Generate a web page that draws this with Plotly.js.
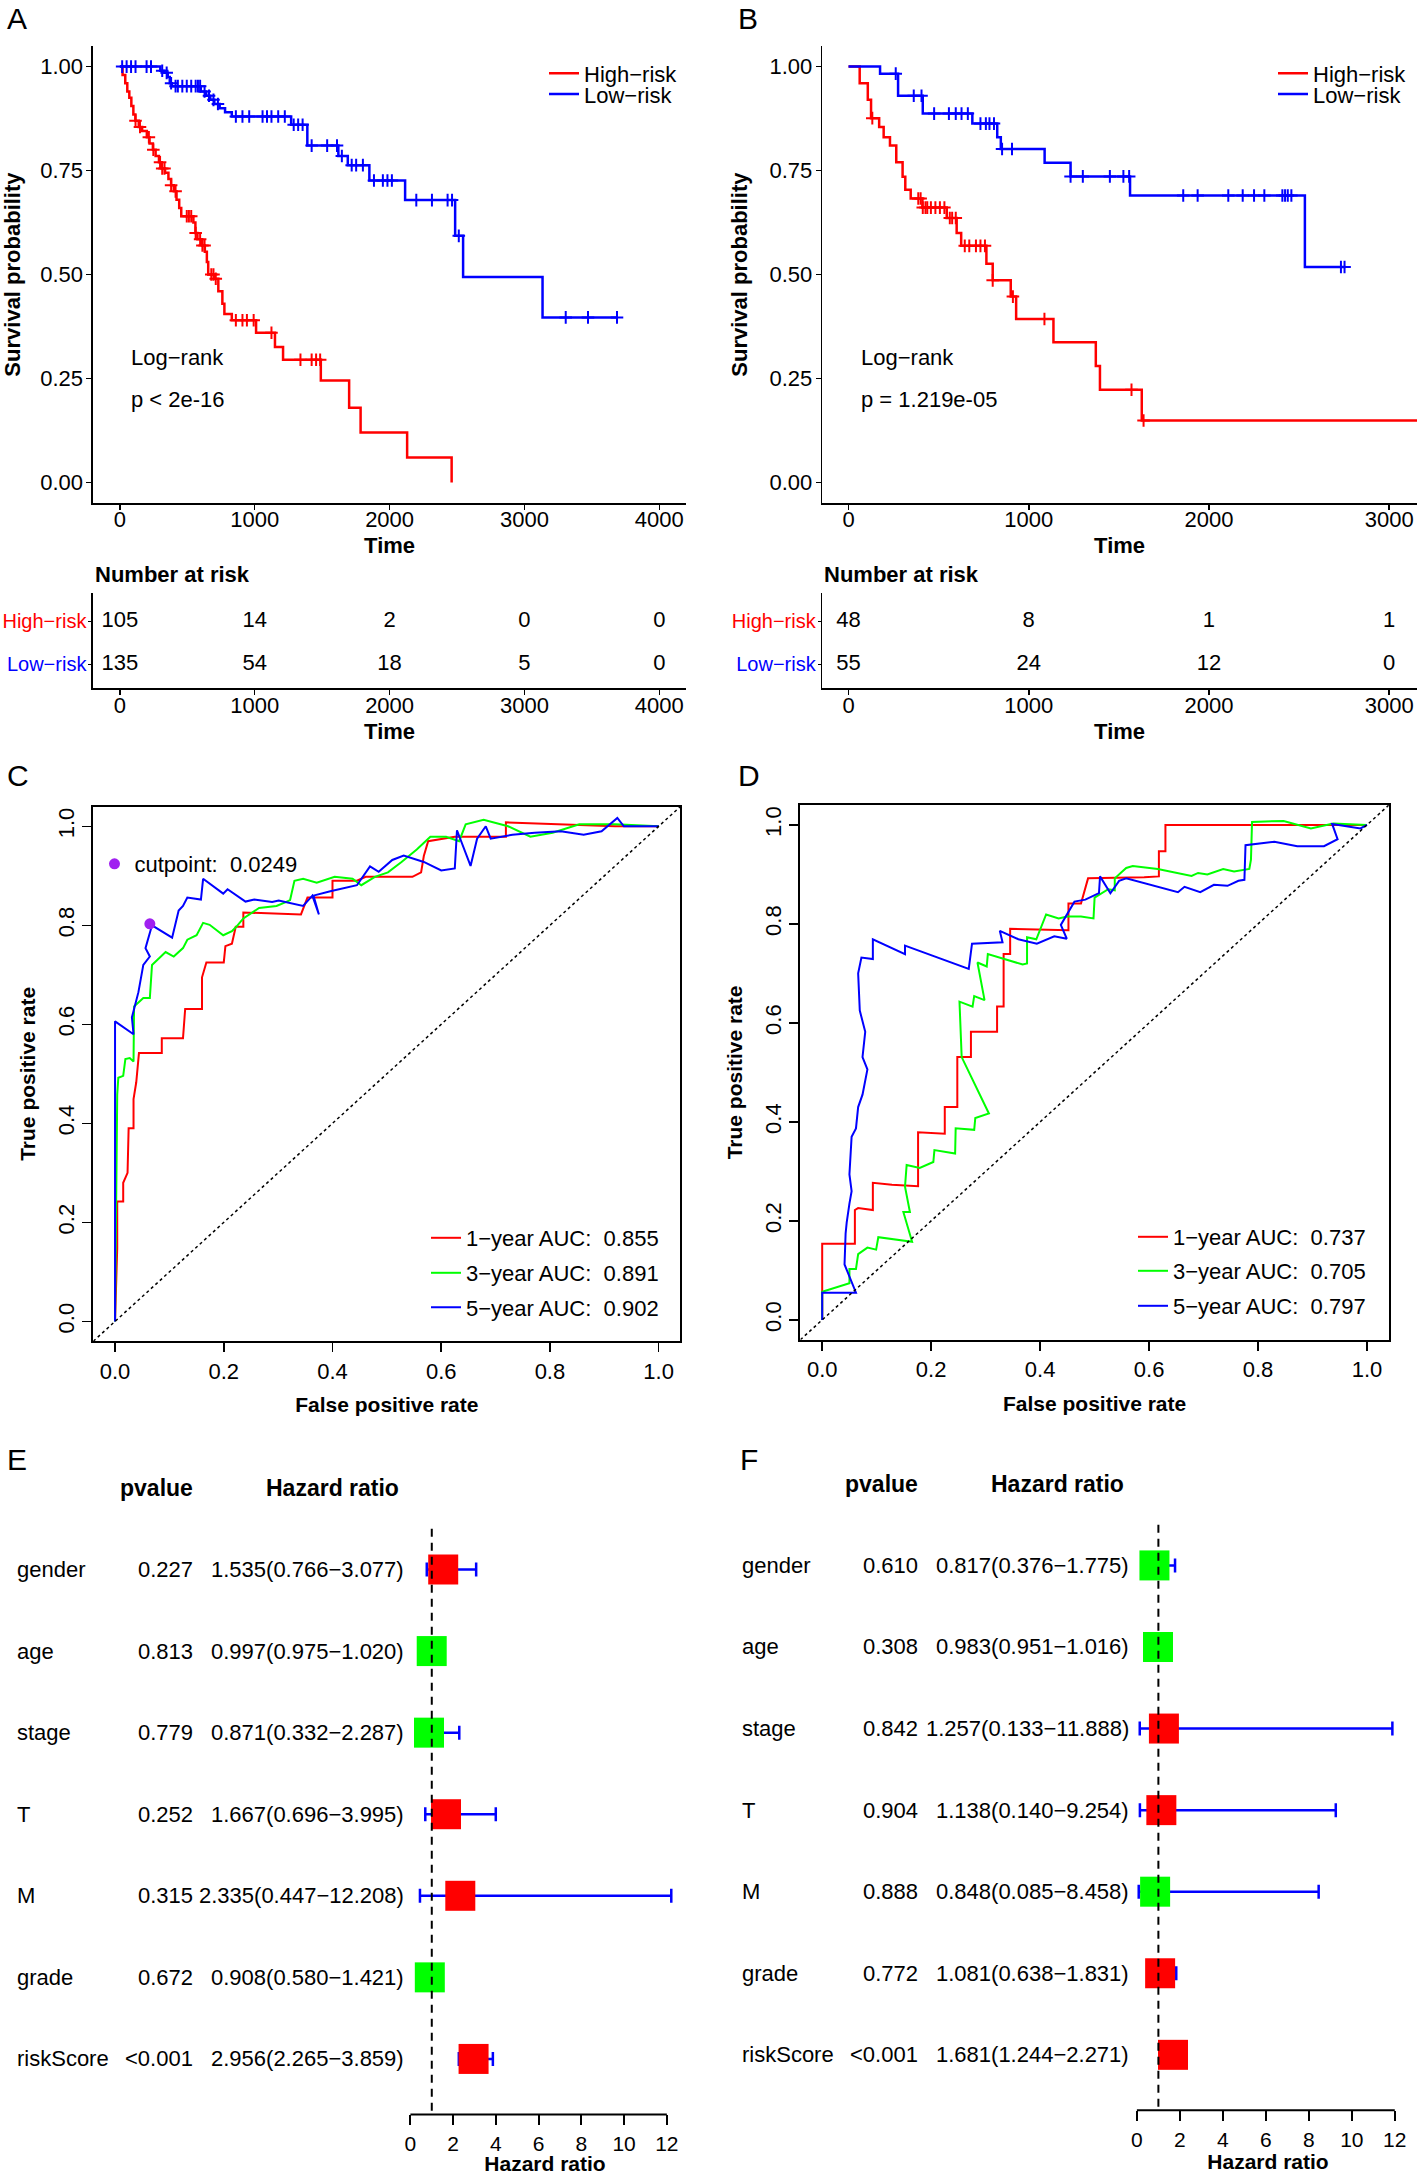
<!DOCTYPE html>
<html><head><meta charset="utf-8">
<script src="https://cdn.plot.ly/plotly-3.0.1.min.js"></script>
<style>html,body{margin:0;padding:0;background:#fff}</style>
</head><body><div id="chart" style="width:1417px;height:2175px"></div>
<script>
// ================= DATA =================
// Panel A: Kaplan-Meier (training cohort)
const kmA_high_time = [0, 20, 40, 55, 70, 85, 100, 115, 140, 165, 200, 220, 245, 265, 290, 310, 335, 360, 380, 400, 420, 440, 455, 545, 560, 575, 610, 630, 645, 655, 700, 730, 760, 775, 830, 1010, 1150, 1210, 1490, 1700, 1785, 2130, 2460];
const kmA_high_surv = [1, 0.98, 0.96, 0.94, 0.925, 0.905, 0.885, 0.87, 0.855, 0.845, 0.83, 0.815, 0.80, 0.785, 0.77, 0.755, 0.745, 0.73, 0.715, 0.70, 0.68, 0.66, 0.64, 0.625, 0.60, 0.585, 0.57, 0.555, 0.53, 0.50, 0.49, 0.46, 0.43, 0.405, 0.39, 0.36, 0.326, 0.295, 0.245, 0.18, 0.12, 0.06, 0.0];
const kmA_high_censor = [116, 149, 215, 248, 298, 314, 331, 380, 413, 496, 512, 529, 562, 595, 612, 628, 678, 694, 711, 860, 909, 942, 992, 1124, 1339, 1422, 1455, 1485];
const kmA_low_time = [0, 300, 330, 355, 370, 385, 600, 640, 670, 700, 740, 780, 830, 1270, 1390, 1620, 1690, 1850, 2115, 2486, 2545, 3134, 3686];
const kmA_low_surv = [1, 0.99, 0.985, 0.975, 0.96, 0.953, 0.94, 0.93, 0.92, 0.91, 0.90, 0.89, 0.88, 0.86, 0.81, 0.785, 0.763, 0.726, 0.679, 0.593, 0.494, 0.397, 0.397];
const kmA_low_censor = [17, 50, 83, 116, 198, 231, 314, 347, 380, 413, 430, 463, 496, 529, 562, 579, 595, 628, 661, 694, 727, 860, 909, 959, 1058, 1091, 1124, 1174, 1223, 1289, 1322, 1355, 1422, 1537, 1610, 1646, 1719, 1752, 1802, 1884, 1950, 1984, 2017, 2198, 2314, 2430, 2463, 2513, 3306, 3471, 3686];
const riskA_times = [0, 1000, 2000, 3000, 4000];
const riskA_high = [105, 14, 2, 0, 0];
const riskA_low = [135, 54, 18, 5, 0];
const pvalA = "p < 2e-16";

// Panel B: Kaplan-Meier (validation cohort)
const kmB_high_time = [0, 62, 107, 125, 170, 195, 230, 265, 300, 315, 345, 410, 545, 600, 625, 765, 800, 900, 930, 1137, 1372, 1395, 1627, 3154];
const kmB_high_surv = [1, 0.96, 0.92, 0.876, 0.855, 0.83, 0.81, 0.77, 0.735, 0.704, 0.683, 0.661, 0.636, 0.60, 0.569, 0.526, 0.486, 0.447, 0.393, 0.337, 0.28, 0.223, 0.149, 0.149];
const kmB_high_censor = [132, 387, 400, 412, 427, 437, 457, 482, 507, 532, 562, 575, 595, 645, 670, 707, 732, 757, 800, 912, 1087, 1570, 1637];
const kmB_low_time = [0, 175, 275, 412, 687, 825, 845, 1088, 1232, 1562, 2532, 2757];
const kmB_low_surv = [1, 0.983, 0.93, 0.887, 0.863, 0.83, 0.802, 0.769, 0.736, 0.69, 0.518, 0.518];
const kmB_low_censor = [262, 362, 405, 475, 557, 595, 627, 662, 732, 762, 782, 807, 852, 907, 1232, 1300, 1450, 1525, 1557, 1857, 1937, 2107, 2187, 2250, 2307, 2407, 2422, 2437, 2457, 2732, 2752];
const riskB_times = [0, 1000, 2000, 3000];
const riskB_high = [48, 8, 1, 1];
const riskB_low = [55, 24, 12, 0];
const pvalB = "p = 1.219e-05";

// Panel C: time-dependent ROC (training)
const rocC_1y_fpr = [0, 0.004, 0.004, 0.015, 0.015, 0.023, 0.025, 0.034, 0.034, 0.039, 0.044, 0.086, 0.086, 0.125, 0.129, 0.160, 0.160, 0.168, 0.20, 0.203, 0.215, 0.222, 0.236, 0.236, 0.342, 0.354, 0.40, 0.40, 0.445, 0.461, 0.547, 0.563, 0.568, 0.576, 0.625, 0.719, 0.719, 0.92, 1.0];
const rocC_1y_tpr = [0, 0.148, 0.242, 0.242, 0.28, 0.30, 0.39, 0.39, 0.449, 0.483, 0.542, 0.542, 0.572, 0.572, 0.631, 0.631, 0.695, 0.725, 0.725, 0.758, 0.763, 0.797, 0.797, 0.826, 0.822, 0.856, 0.856, 0.89, 0.89, 0.898, 0.898, 0.907, 0.94, 0.97, 0.979, 0.979, 1.008, 1.0, 1.0];
const rocC_3y_fpr = [0, 0.004, 0.006, 0.015, 0.019, 0.027, 0.034, 0.035, 0.035, 0.052, 0.064, 0.068, 0.076, 0.093, 0.108, 0.125, 0.133, 0.15, 0.162, 0.174, 0.199, 0.215, 0.223, 0.236, 0.265, 0.297, 0.314, 0.322, 0.33, 0.346, 0.371, 0.404, 0.437, 0.453, 0.478, 0.502, 0.527, 0.555, 0.58, 0.609, 0.633, 0.645, 0.678, 0.723, 0.764, 0.805, 0.854, 0.92, 1.0];
const rocC_3y_tpr = [0, 0.458, 0.492, 0.496, 0.53, 0.532, 0.525, 0.593, 0.636, 0.653, 0.653, 0.72, 0.729, 0.746, 0.737, 0.754, 0.771, 0.78, 0.805, 0.801, 0.78, 0.788, 0.797, 0.814, 0.835, 0.839, 0.847, 0.851, 0.89, 0.894, 0.886, 0.898, 0.894, 0.881, 0.898, 0.907, 0.928, 0.953, 0.979, 0.979, 0.97, 1.004, 1.013, 1.0, 0.979, 0.987, 1.004, 1.004, 1.0];
const rocC_5y_fpr = [0, 0, 0.034, 0.031, 0.043, 0.052, 0.064, 0.056, 0.068, 0.105, 0.117, 0.125, 0.133, 0.158, 0.162, 0.199, 0.207, 0.240, 0.256, 0.289, 0.301, 0.346, 0.363, 0.375, 0.365, 0.396, 0.445, 0.469, 0.485, 0.51, 0.531, 0.568, 0.60, 0.625, 0.629, 0.654, 0.666, 0.682, 0.691, 0.731, 0.772, 0.82, 0.862, 0.895, 0.924, 0.936, 1.0];
const rocC_5y_tpr = [0, 0.606, 0.58, 0.614, 0.665, 0.72, 0.737, 0.754, 0.80, 0.775, 0.83, 0.839, 0.856, 0.852, 0.894, 0.864, 0.873, 0.848, 0.852, 0.847, 0.85, 0.839, 0.86, 0.822, 0.86, 0.869, 0.881, 0.919, 0.908, 0.932, 0.941, 0.928, 0.911, 0.915, 0.992, 0.92, 0.975, 1.0, 0.975, 0.983, 0.987, 0.99, 0.983, 0.99, 1.017, 1.0, 1.0];
const rocC_auc = ["0.855", "0.891", "0.902"];
const cutpoint_fpr = [0.064];
const cutpoint_tpr = [0.803];
const cutpoint_value = "0.0249";

// Panel D: time-dependent ROC (validation)
const rocD_1y_fpr = [0, 0, 0.06, 0.06, 0.066, 0.093, 0.093, 0.128, 0.176, 0.176, 0.225, 0.225, 0.248, 0.248, 0.273, 0.273, 0.321, 0.321, 0.333, 0.333, 0.345, 0.345, 0.452, 0.452, 0.475, 0.488, 0.591, 0.618, 0.618, 0.63, 0.63, 1.0];
const rocD_1y_tpr = [0, 0.154, 0.154, 0.222, 0.226, 0.222, 0.277, 0.273, 0.27, 0.379, 0.376, 0.43, 0.43, 0.531, 0.531, 0.582, 0.582, 0.633, 0.633, 0.739, 0.739, 0.79, 0.787, 0.841, 0.841, 0.892, 0.894, 0.896, 0.947, 0.947, 1.0, 1.0];
const rocD_3y_fpr = [0, 0, 0.05, 0.05, 0.062, 0.066, 0.083, 0.099, 0.103, 0.165, 0.149, 0.161, 0.152, 0.155, 0.179, 0.204, 0.206, 0.244, 0.245, 0.279, 0.281, 0.306, 0.256, 0.252, 0.276, 0.279, 0.298, 0.285, 0.302, 0.304, 0.368, 0.376, 0.376, 0.393, 0.411, 0.434, 0.45, 0.475, 0.498, 0.50, 0.525, 0.537, 0.537, 0.558, 0.57, 0.616, 0.678, 0.69, 0.707, 0.736, 0.756, 0.784, 0.787, 0.789, 0.847, 0.897, 0.938, 1.0];
const rocD_3y_tpr = [0, 0.057, 0.074, 0.103, 0.103, 0.133, 0.146, 0.142, 0.167, 0.158, 0.218, 0.218, 0.269, 0.313, 0.307, 0.319, 0.343, 0.336, 0.387, 0.384, 0.408, 0.417, 0.531, 0.643, 0.633, 0.654, 0.646, 0.722, 0.714, 0.739, 0.718, 0.72, 0.773, 0.769, 0.819, 0.811, 0.815, 0.815, 0.811, 0.853, 0.87, 0.868, 0.892, 0.913, 0.917, 0.911, 0.897, 0.903, 0.9, 0.911, 0.906, 0.911, 0.93, 1.006, 1.008, 0.993, 1.003, 1.0];
const rocD_5y_fpr = [0, 0, 0.062, 0.041, 0.043, 0.045, 0.05, 0.054, 0.05, 0.054, 0.062, 0.066, 0.074, 0.083, 0.074, 0.079, 0.069, 0.066, 0.072, 0.093, 0.093, 0.152, 0.152, 0.269, 0.275, 0.331, 0.326, 0.36, 0.394, 0.426, 0.449, 0.438, 0.463, 0.483, 0.508, 0.51, 0.529, 0.545, 0.558, 0.653, 0.665, 0.694, 0.719, 0.744, 0.764, 0.775, 0.777, 0.83, 0.872, 0.921, 0.946, 0.936, 0.988, 1.0];
const rocD_5y_tpr = [0, 0.055, 0.055, 0.112, 0.175, 0.197, 0.235, 0.26, 0.294, 0.37, 0.387, 0.43, 0.455, 0.506, 0.531, 0.582, 0.625, 0.70, 0.732, 0.729, 0.769, 0.739, 0.756, 0.709, 0.76, 0.763, 0.786, 0.769, 0.76, 0.775, 0.77, 0.798, 0.845, 0.849, 0.862, 0.896, 0.862, 0.887, 0.892, 0.864, 0.875, 0.864, 0.879, 0.877, 0.887, 0.889, 0.959, 0.966, 0.957, 0.957, 0.971, 1.002, 0.993, 1.0];
const rocD_auc = ["0.737", "0.705", "0.797"];
const rocYears = ["1", "3", "5"];

// Panels E/F: multivariate Cox forest plots
const forestVars = ["gender", "age", "stage", "T", "M", "grade", "riskScore"];
const forestE_p = ["0.227", "0.813", "0.779", "0.252", "0.315", "0.672", "<0.001"];
const forestE_hr = [1.535, 0.997, 0.871, 1.667, 2.335, 0.908, 2.956];
const forestE_lo = [0.766, 0.975, 0.332, 0.696, 0.447, 0.580, 2.265];
const forestE_hi = [3.077, 1.020, 2.287, 3.995, 12.208, 1.421, 3.859];
const forestF_p = ["0.610", "0.308", "0.842", "0.904", "0.888", "0.772", "<0.001"];
const forestF_hr = [0.817, 0.983, 1.257, 1.138, 0.848, 1.081, 1.681];
const forestF_lo = [0.376, 0.951, 0.133, 0.140, 0.085, 0.638, 1.244];
const forestF_hi = [1.775, 1.016, 11.888, 9.254, 8.458, 1.831, 2.271];
const forestTicks = [0, 2, 4, 6, 8, 10, 12];

// ================= STYLE / LAYOUT HELPERS =================
const W = 1417, H = 2175;
const FONT = '"Liberation Sans", Arial, Helvetica, sans-serif';
const RED = '#FF0000', BLUE = '#0000FF', GREEN = '#00FF00', PURPLE = '#A020F0';
const fx = p => p / W;
const fy = p => 1 - p / H;
const dx = (a, b) => [fx(a), fx(b)];
const dy = (top, bottom) => [fy(bottom), fy(top)];
const MINUS = '\u2212';

function survAt(ts, ss, t) {
  let s = ss[0];
  for (let i = 0; i < ts.length; i++) if (ts[i] <= t) s = ss[i];
  return s;
}

const traces = [];
function addKM(t, s, cens, color, name, xa, ya, legendId) {
  traces.push({type: 'scatter', x: t, y: s, mode: 'lines', name: name,
    line: {shape: 'hv', color: color, width: 2.5}, xaxis: xa, yaxis: ya,
    legend: legendId, showlegend: true, hoverinfo: 'skip'});
  traces.push({type: 'scatter', x: cens, y: cens.map(c => survAt(t, s, c)), mode: 'markers',
    marker: {symbol: 'cross-thin', size: 9, line: {color: color, width: 2}},
    xaxis: xa, yaxis: ya, showlegend: false, hoverinfo: 'skip'});
}
addKM(kmA_high_time, kmA_high_surv, kmA_high_censor, RED, 'High' + MINUS + 'risk', 'x', 'y', 'legend');
addKM(kmA_low_time, kmA_low_surv, kmA_low_censor, BLUE, 'Low' + MINUS + 'risk', 'x', 'y', 'legend2');
addKM(kmB_high_time, kmB_high_surv, kmB_high_censor, RED, 'High' + MINUS + 'risk', 'x3', 'y3', 'legend3');
addKM(kmB_low_time, kmB_low_surv, kmB_low_censor, BLUE, 'Low' + MINUS + 'risk', 'x3', 'y3', 'legend4');

function addRisk(times, counts, row, xa, ya) {
  traces.push({type: 'scatter', x: times, y: times.map(() => row), mode: 'text',
    text: counts.map(String), textposition: 'middle center',
    textfont: {family: FONT, size: 22, color: 'black'},
    xaxis: xa, yaxis: ya, showlegend: false, hoverinfo: 'skip', cliponaxis: false});
}
addRisk(riskA_times, riskA_high, 2, 'x2', 'y2');
addRisk(riskA_times, riskA_low, 1, 'x2', 'y2');
addRisk(riskB_times, riskB_high, 2, 'x4', 'y4');
addRisk(riskB_times, riskB_low, 1, 'x4', 'y4');

function addROC(fpr, tpr, color, name, xa, ya, legendId) {
  traces.push({type: 'scatter', x: fpr, y: tpr, mode: 'lines', name: name,
    line: {color: color, width: 2}, xaxis: xa, yaxis: ya, legend: legendId,
    showlegend: true, hoverinfo: 'skip', cliponaxis: false});
}
const rocColors = [RED, GREEN, BLUE];
const rocCdata = [[rocC_1y_fpr, rocC_1y_tpr], [rocC_3y_fpr, rocC_3y_tpr], [rocC_5y_fpr, rocC_5y_tpr]];
const rocDdata = [[rocD_1y_fpr, rocD_1y_tpr], [rocD_3y_fpr, rocD_3y_tpr], [rocD_5y_fpr, rocD_5y_tpr]];
rocCdata.forEach((d, i) => addROC(d[0], d[1], rocColors[i], rocYears[i] + MINUS + 'year AUC:  ' + rocC_auc[i], 'x5', 'y5', 'legend' + (6 + i)));
rocDdata.forEach((d, i) => addROC(d[0], d[1], rocColors[i], rocYears[i] + MINUS + 'year AUC:  ' + rocD_auc[i], 'x6', 'y6', 'legend' + (9 + i)));
traces.push({type: 'scatter', x: cutpoint_fpr, y: cutpoint_tpr, mode: 'markers', name: 'cutpoint:  ' + cutpoint_value,
  marker: {color: PURPLE, size: 11, symbol: 'circle'}, xaxis: 'x5', yaxis: 'y5', legend: 'legend5', showlegend: true, hoverinfo: 'skip'});

function addForest(hr, lo, hi, xa, ya) {
  const rows = hr.map((_, i) => i + 1);
  traces.push({type: 'scatter', x: hr, y: rows, mode: 'markers', xaxis: xa, yaxis: ya,
    marker: {symbol: 'square', size: 30, color: hr.map(v => v > 1 ? RED : GREEN), line: {width: 0}},
    error_x: {type: 'data', symmetric: false, array: hi.map((v, i) => v - hr[i]),
      arrayminus: lo.map((v, i) => hr[i] - v), color: BLUE, thickness: 2.5, width: 7},
    showlegend: false, hoverinfo: 'skip', cliponaxis: false});
}
addForest(forestE_hr, forestE_lo, forestE_hi, 'x7', 'y7');
addForest(forestF_hr, forestF_lo, forestF_hi, 'x8', 'y8');

// ================= AXES =================
const titleFont = {family: FONT, size: 22, color: 'black', weight: 'bold'};
const rocTitleFont = {family: FONT, size: 21, color: 'black', weight: 'bold'};
const tickFont = {family: FONT, size: 22, color: 'black'};
const kmBase = {showline: true, linecolor: 'black', linewidth: 1.5, ticks: 'outside', ticklen: 5,
  tickwidth: 1.5, tickcolor: 'black', showgrid: false, zeroline: false, tickfont: tickFont,
  automargin: false, fixedrange: true};
const kmYticks = [0, 0.25, 0.5, 0.75, 1];
const kmYtext = ['0.00', '0.25', '0.50', '0.75', '1.00'];
const riskYtext = ['<span style="color:' + BLUE + '">Low' + MINUS + 'risk</span>',
                   '<span style="color:' + RED + '">High' + MINUS + 'risk</span>'];
const riskYfont = {family: FONT, size: 20, color: 'black'};

const rocBase = {showline: true, mirror: true, linecolor: 'black', linewidth: 2, ticks: 'outside',
  ticklen: 9, tickwidth: 1.5, tickcolor: 'black', showgrid: false, zeroline: false,
  range: [-0.04, 1.04], tickvals: [0, 0.2, 0.4, 0.6, 0.8, 1.0],
  ticktext: ['0.0', '0.2', '0.4', '0.6', '0.8', '1.0'], tickfont: tickFont, automargin: false, fixedrange: true};

const forestXBase = {showline: false, ticks: 'outside', ticklen: 10, tickwidth: 2, tickcolor: 'black',
  showgrid: false, zeroline: false, tickvals: forestTicks, tickfont: {family: FONT, size: 21, color: 'black'},
  automargin: false, fixedrange: true, title: {text: 'Hazard ratio', font: rocTitleFont, standoff: 2}};

const kmX = (dom, range, ticks, anchor, tls, st) => Object.assign({}, kmBase, {domain: dom, range: range,
  tickvals: ticks, anchor: anchor, ticklabelstandoff: tls, title: {text: 'Time', font: titleFont, standoff: st}});

const layout = {
  width: W, height: H, margin: {l: 0, r: 0, t: 0, b: 0},
  paper_bgcolor: 'white', plot_bgcolor: 'rgba(0,0,0,0)',
  font: {family: FONT, color: 'black'},
  xaxis: kmX(dx(92.9, 686.3), [-200, 4200], riskA_times, 'y', -9, 6),
  yaxis: Object.assign({}, kmBase, {domain: dy(45.8, 503.3), range: [-0.05, 1.05], tickvals: kmYticks, ticktext: kmYtext, anchor: 'x',
    ticklabelstandoff: -1, title: {text: 'Survival probability', font: titleFont, standoff: 16}}),
  xaxis2: kmX(dx(92.9, 686.3), [-200, 4200], riskA_times, 'y2', -8, 6),
  yaxis2: Object.assign({}, kmBase, {domain: dy(593, 688), range: [0.45, 2.66], tickvals: [1, 2], ticktext: riskYtext,
    anchor: 'x2', ticklen: 3, ticklabelstandoff: -2, tickfont: riskYfont}),
  xaxis3: kmX(dx(822.2, 1417), [-146, 3154], riskB_times, 'y3', -9, 6),
  yaxis3: Object.assign({}, kmBase, {domain: dy(45.8, 503.3), range: [-0.05, 1.05], tickvals: kmYticks, ticktext: kmYtext, anchor: 'x3',
    ticklabelstandoff: -1, title: {text: 'Survival probability', font: titleFont, standoff: 16}}),
  xaxis4: kmX(dx(822.2, 1417), [-146, 3154], riskB_times, 'y4', -8, 6),
  yaxis4: Object.assign({}, kmBase, {domain: dy(593, 688), range: [0.45, 2.66], tickvals: [1, 2], ticktext: riskYtext,
    anchor: 'x4', ticklen: 3, ticklabelstandoff: -2, tickfont: riskYfont}),
  xaxis5: Object.assign({}, rocBase, {domain: dx(93.3, 680.4), anchor: 'y5',
    title: {text: 'False positive rate', font: rocTitleFont, standoff: 15}}),
  yaxis5: Object.assign({}, rocBase, {domain: dy(806.5, 1341.2), anchor: 'x5', tickangle: -90,
    title: {text: 'True positive rate', font: rocTitleFont, standoff: 12}}),
  xaxis6: Object.assign({}, rocBase, {domain: dx(800.4, 1388.8), anchor: 'y6',
    title: {text: 'False positive rate', font: rocTitleFont, standoff: 15}}),
  yaxis6: Object.assign({}, rocBase, {domain: dy(805.1, 1339.7), anchor: 'x6', tickangle: -90,
    title: {text: 'True positive rate', font: rocTitleFont, standoff: 12}}),
  xaxis7: Object.assign({}, forestXBase, {domain: dx(400, 690), range: [-0.487, 13.084], anchor: 'y7'}),
  yaxis7: {domain: dy(1450, 2114.4), range: [7.68, -0.465], visible: false, anchor: 'x7', fixedrange: true},
  xaxis8: Object.assign({}, forestXBase, {domain: dx(1126, 1410), range: [-0.507, 12.708], anchor: 'y8'}),
  yaxis8: {domain: dy(1446, 2110.3), range: [7.68, -0.464], visible: false, anchor: 'x8', fixedrange: true},
  shapes: [], annotations: []
};

// legends (one per key so spacing matches the original)
const legFont = {family: FONT, size: 22, color: 'black'};
function legend(xpx, ypx) {
  return {x: fx(xpx), y: fy(ypx), xanchor: 'left', yanchor: 'middle', bgcolor: 'rgba(0,0,0,0)',
    borderwidth: 0, font: legFont, itemclick: false, itemdoubleclick: false};
}
layout.legend = legend(544, 73.5);
layout.legend2 = legend(544, 94.3);
layout.legend3 = legend(1273, 73.5);
layout.legend4 = legend(1273, 94.3);
layout.legend5 = legend(94.5, 864);
layout.legend6 = legend(426, 1238);
layout.legend7 = legend(426, 1273);
layout.legend8 = legend(426, 1307.5);
layout.legend9 = legend(1133, 1237);
layout.legend10 = legend(1133, 1271);
layout.legend11 = legend(1133, 1306);

// reference lines
['5', '6'].forEach(k => layout.shapes.push({type: 'line', xref: 'x' + k, yref: 'y' + k,
  x0: -0.04, y0: -0.04, x1: 1.04, y1: 1.04, line: {color: 'black', width: 1.5, dash: '3px,3px'}}));
[['7', 0.5, 7.76], ['8', 0.5, 7.76]].forEach(([k, a, b]) => {
  layout.shapes.push({type: 'line', xref: 'x' + k, yref: 'y' + k, x0: 1, x1: 1, y0: a, y1: b,
    line: {color: 'black', width: 2, dash: '8px,6px'}});
  layout.shapes.push({type: 'line', xref: 'x' + k, yref: 'y' + k + ' domain', x0: forestTicks[0],
    x1: forestTicks[forestTicks.length - 1], y0: 0, y1: 0, line: {color: 'black', width: 2}});
});

// annotations
const ann = layout.annotations;
const letterFont = {family: FONT, size: 30, color: 'black'};
[['A', 5, 0], ['B', 736, 0], ['C', 5, 757], ['D', 736, 757], ['E', 5, 1441], ['F', 738, 1441]].forEach(([t, x, y]) =>
  ann.push({text: t, xref: 'paper', yref: 'paper', x: fx(x), y: fy(y), xanchor: 'left', yanchor: 'top',
    showarrow: false, font: letterFont}));
const annFont = {family: FONT, size: 22, color: 'black'};
ann.push({text: 'Log' + MINUS + 'rank', xref: 'x', yref: 'y', x: 70, y: 0.30, xanchor: 'left', showarrow: false, font: annFont});
ann.push({text: pvalA, xref: 'x', yref: 'y', x: 70, y: 0.20, xanchor: 'left', showarrow: false, font: annFont});
ann.push({text: 'Log' + MINUS + 'rank', xref: 'x3', yref: 'y3', x: 60, y: 0.30, xanchor: 'left', showarrow: false, font: annFont});
ann.push({text: pvalB, xref: 'x3', yref: 'y3', x: 60, y: 0.20, xanchor: 'left', showarrow: false, font: annFont});
ann.push({text: 'Number at risk', xref: 'paper', yref: 'paper', x: fx(93), y: fy(574), xanchor: 'left', yanchor: 'middle', showarrow: false, font: titleFont});
ann.push({text: 'Number at risk', xref: 'paper', yref: 'paper', x: fx(822), y: fy(574), xanchor: 'left', yanchor: 'middle', showarrow: false, font: titleFont});

const fFont = {family: FONT, size: 22, color: 'black'};
const hFont = {family: FONT, size: 23, color: 'black', weight: 'bold'};
function forestText(ya, xLabel, xP, xHR, xHead, pv, hr, lo, hi) {
  ann.push({text: 'pvalue', xref: 'paper', yref: ya, x: fx(xP), y: 0, xanchor: 'right', showarrow: false, font: hFont});
  ann.push({text: 'Hazard ratio', xref: 'paper', yref: ya, x: fx(xHead), y: 0, xanchor: 'right', showarrow: false, font: hFont});
  forestVars.forEach((v, i) => {
    const hrTxt = hr[i].toFixed(3) + '(' + lo[i].toFixed(3) + MINUS + hi[i].toFixed(3) + ')';
    ann.push({text: v, xref: 'paper', yref: ya, x: fx(xLabel), y: i + 1, xanchor: 'left', showarrow: false, font: fFont});
    ann.push({text: pv[i], xref: 'paper', yref: ya, x: fx(xP), y: i + 1, xanchor: 'right', showarrow: false, font: fFont});
    ann.push({text: hrTxt, xref: 'paper', yref: ya, x: fx(xHR), y: i + 1, xanchor: 'right', showarrow: false, font: fFont});
  });
}
forestText('y7', 15, 195, 406, 401, forestE_p, forestE_hr, forestE_lo, forestE_hi);
forestText('y8', 740, 920, 1131, 1126, forestF_p, forestF_hr, forestF_lo, forestF_hi);

Plotly.newPlot('chart', traces, layout, {displayModeBar: false, staticPlot: true});
</script>
</body></html>
